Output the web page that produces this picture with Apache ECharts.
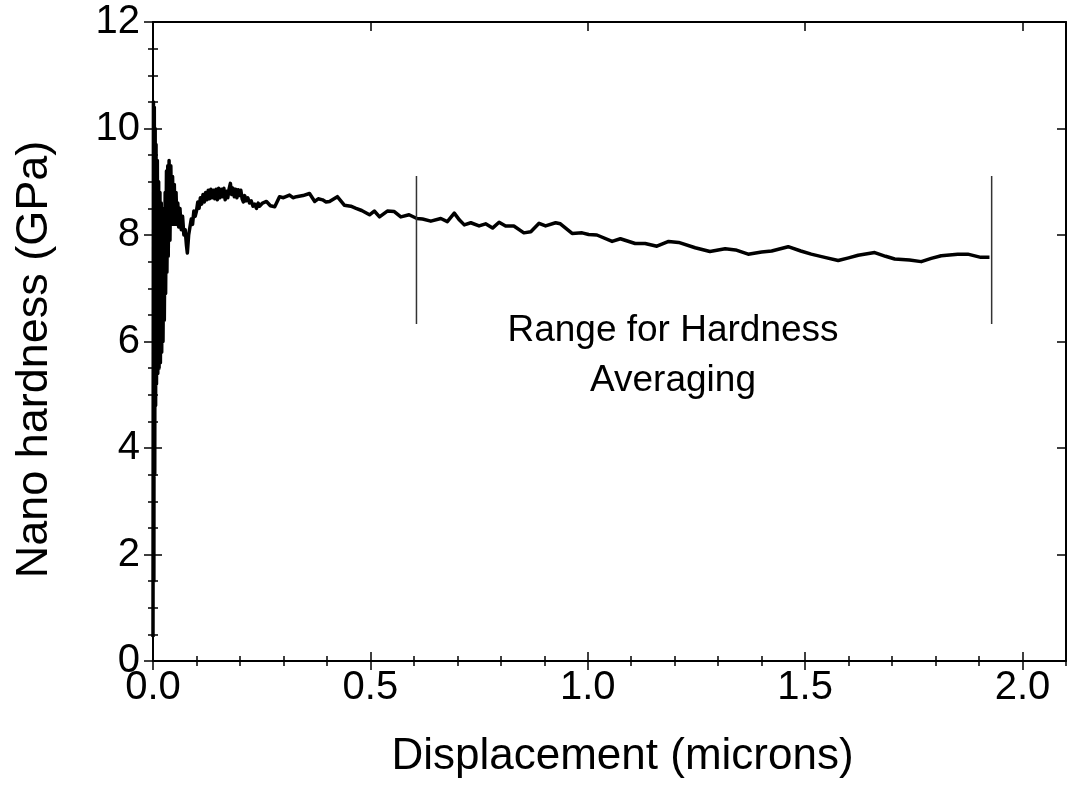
<!DOCTYPE html>
<html>
<head>
<meta charset="utf-8">
<script src="https://cdn.jsdelivr.net/npm/echarts@6/dist/echarts.min.js"></script>
<style>html,body{margin:0;padding:0;background:#fff;}#c{width:1068px;height:810px;}</style>
</head>
<body>
<div id="c"></div>
<script>
// ---- data ----
const dispX = [
  0.000,0.001,0.002,0.003,0.004,0.005,0.006,0.007,0.008,0.010,0.011,0.013,0.014,0.016,0.017,0.019,0.020,0.022,0.023,0.025,0.026,0.028,0.029,0.031,0.032,0.034,0.035,0.037,0.039,
  0.041,0.043,0.045,0.047,0.049,0.051,0.053,0.055,0.057,0.059,0.062,0.065,0.068,0.071,0.074,0.077,0.079,0.082,0.085,0.088,0.091,0.094,0.097,
  0.100,0.103,0.106,0.109,0.112,0.115,0.118,0.121,0.124,0.127,0.130,0.133,0.136,0.139,0.142,0.145,0.148,0.151,0.154,0.157,0.160,0.163,0.166,0.169,0.172,0.175,0.178,0.181,0.184,0.187,0.190,0.193,0.196,0.199,0.202,0.205,0.208,0.211,0.214,0.218,0.222,0.226,0.230,0.234,0.238,0.242,0.245,
  0.252,0.261,0.270,0.280,0.291,0.300,0.314,0.322,0.330,0.345,0.360,0.372,0.380,0.390,0.398,0.406,0.424,0.440,0.455,0.467,0.480,0.498,0.509,0.521,0.539,0.555,0.570,0.589,0.607,0.620,0.639,0.662,0.677,0.693,0.705,0.716,0.731,0.750,0.765,0.781,0.796,0.811,0.830,0.853,0.869,0.888,0.903,0.926,0.937,0.964,0.987,1.002,1.021,1.056,1.075,1.109,1.132,1.159,1.186,1.209,1.247,1.281,1.316,1.340,1.369,1.400,1.423,1.461,1.490,1.514,1.545,1.576,1.600,1.622,1.660,1.685,1.706,1.740,1.767,1.790,1.813,1.851,1.874,1.904,1.924
];
const hardY = [
  0.45,10.5,1.5,10.4,3.5,10.0,4.8,9.7,5.2,9.4,5.4,9.0,5.5,8.8,5.6,8.6,5.8,8.5,6.0,8.4,6.4,8.8,6.9,9.2,7.3,9.3,7.6,9.4,7.9,
  9.3,8.2,9.1,8.2,8.95,8.2,8.8,8.2,8.6,8.15,8.5,8.1,8.35,8.0,8.1,7.8,7.66,8.0,8.15,8.3,8.2,8.45,8.35,
  8.45,8.62,8.50,8.70,8.58,8.76,8.62,8.80,8.66,8.84,8.68,8.86,8.70,8.84,8.68,8.86,8.66,8.88,8.70,8.86,8.72,8.88,8.66,8.82,8.70,8.86,8.97,8.76,8.88,8.72,8.86,8.70,8.85,8.74,8.84,8.68,8.62,8.74,8.64,8.70,8.60,8.64,8.54,8.58,8.50,8.60,8.54,
  8.6,8.63,8.55,8.53,8.72,8.70,8.75,8.70,8.72,8.74,8.78,8.63,8.68,8.66,8.62,8.63,8.72,8.56,8.54,8.50,8.46,8.38,8.45,8.34,8.45,8.44,8.34,8.38,8.31,8.30,8.26,8.31,8.25,8.41,8.28,8.19,8.23,8.17,8.21,8.13,8.24,8.17,8.17,8.04,8.06,8.22,8.17,8.23,8.21,8.03,8.04,8.01,8.00,7.88,7.93,7.84,7.84,7.79,7.88,7.86,7.76,7.69,7.74,7.72,7.64,7.68,7.70,7.78,7.70,7.64,7.58,7.52,7.57,7.62,7.67,7.60,7.55,7.53,7.50,7.56,7.61,7.64,7.64,7.58,7.58
];
const rangeStartX = [0.606, 0.606];
const rangeEndX = [1.929, 1.929];
const rangeBarY = [6.33, 9.11];
const xMajorTicks = [0.0, 0.5, 1.0, 1.5, 2.0];
const yMajorTicks = [0, 2, 4, 6, 8, 10, 12];
const annotation = 'Range for Hardness\nAveraging';
const xTitle = 'Displacement (microns)';
const yTitle = 'Nano hardness (GPa)';

// ---- build ----
const zip = (xs, ys) => xs.map((x, i) => [x, ys[i]]);
const FONT = 'Liberation Sans, Arial, sans-serif';
const black = '#000';
const X_MIN = 0, X_MAX = 2.1, Y_MIN = 0, Y_MAX = 12;

function xAx(o) {
  return Object.assign({
    type: 'value', min: X_MIN, max: X_MAX, position: 'bottom',
    axisLine: {show: false}, axisTick: {show: false}, axisLabel: {show: false},
    splitLine: {show: false}
  }, o);
}
function yAx(o) {
  return Object.assign({
    type: 'value', min: Y_MIN, max: Y_MAX, position: 'left',
    axisLine: {show: false}, axisTick: {show: false}, axisLabel: {show: false},
    splitLine: {show: false}
  }, o);
}
const lineStyle = {color: black, width: 2};
const majorTick = (inside) => ({show: true, inside: inside, length: 9, lineStyle: {color: black, width: 1.5}});
const minorTick = {show: true, inside: true, length: 5, lineStyle: {color: black, width: 1.5}};

const option = {
  backgroundColor: '#fff',
  animation: false,
  grid: {left: 153, right: 2, top: 22, bottom: 149, containLabel: false},
  xAxis: [
    xAx({
      axisLine: {show: true, onZero: false, lineStyle: lineStyle},
      axisTick: Object.assign(majorTick(true), {customValues: xMajorTicks}),
      axisLabel: {show: true, customValues: xMajorTicks, formatter: v => v.toFixed(1),
        fontFamily: FONT, fontSize: 40, color: black, margin: 7},
      name: xTitle, nameLocation: 'middle', nameGap: 74,
      nameTextStyle: {fontFamily: FONT, fontSize: 44, color: black, padding: [0, 0, 0, 26]}
    }),
    xAx({axisTick: Object.assign(majorTick(false), {customValues: xMajorTicks})}),
    xAx({interval: 0.1, axisTick: minorTick}),
    xAx({position: 'top', axisLine: {show: true, onZero: false, lineStyle: lineStyle},
      axisTick: Object.assign(majorTick(true), {customValues: xMajorTicks})}),
    xAx({position: 'top', axisTick: Object.assign(majorTick(false), {customValues: xMajorTicks})}),
    xAx({position: 'top', interval: 0.1, axisTick: minorTick})
  ],
  yAxis: [
    yAx({
      axisLine: {show: true, onZero: false, lineStyle: lineStyle},
      axisTick: Object.assign(majorTick(true), {customValues: yMajorTicks}),
      axisLabel: {show: true, customValues: yMajorTicks, fontFamily: FONT, fontSize: 40, color: black, margin: 13},
      name: yTitle, nameLocation: 'middle', nameGap: 96, nameRotate: 90,
      nameTextStyle: {fontFamily: FONT, fontSize: 45, color: black, padding: [0, 36, 0, 0]}
    }),
    yAx({axisTick: Object.assign(majorTick(false), {customValues: yMajorTicks})}),
    yAx({interval: 0.5, axisTick: minorTick}),
    yAx({position: 'right', axisLine: {show: true, onZero: false, lineStyle: lineStyle},
      axisTick: Object.assign(majorTick(true), {customValues: yMajorTicks})}),
    yAx({position: 'right', interval: 0.5, axisTick: minorTick})
  ],
  series: [
    {type: 'line', data: zip(dispX, hardY), showSymbol: false, symbol: 'none',
      lineStyle: {color: black, width: 3.5, join: 'round'}, z: 3},
    {type: 'line', data: zip(rangeStartX, rangeBarY), symbol: 'none',
      lineStyle: {color: '#333', width: 1.5}},
    {type: 'line', data: zip(rangeEndX, rangeBarY), symbol: 'none',
      lineStyle: {color: '#333', width: 1.5}}
  ],
  graphic: [{
    type: 'text', x: 673, y: 306,
    style: {text: annotation, fontFamily: FONT, fontSize: 37, fill: black,
      textAlign: 'center', textVerticalAlign: 'top', lineHeight: 50}
  }]
};
const chart = echarts.init(document.getElementById('c'), null, {renderer: 'canvas'});
chart.setOption(option);
</script>
</body>
</html>
